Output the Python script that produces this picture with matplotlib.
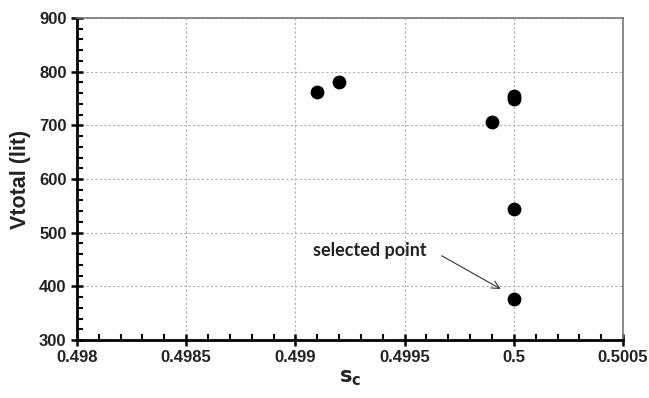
import numpy as np
import matplotlib.pyplot as plt
from matplotlib.ticker import MultipleLocator

# data
s_c = [0.4991, 0.4992, 0.4999, 0.5, 0.5, 0.5, 0.5]
v_total = [763, 781, 706, 749, 755, 545, 376]
sel_x, sel_y = 0.5, 376

x_ticks = [0.498, 0.4985, 0.499, 0.4995, 0.5, 0.5005]
x_tick_labels = ["0.498", "0.4985", "0.499", "0.4995", "0.5", "0.5005"]
y_ticks = [300, 400, 500, 600, 700, 800, 900]

plt.rcParams['font.family'] = ['Liberation Sans', 'DejaVu Sans']

fig = plt.figure(figsize=(6.49, 3.98), dpi=100)
ax = fig.add_axes([0.1186, 0.1457, 0.8414, 0.8091])

ax.scatter(s_c, v_total, s=80, color='black', zorder=3)

ax.set_xlim(0.498, 0.5005)
ax.set_ylim(300, 900)
ax.set_xticks(x_ticks)
ax.set_xticklabels(x_tick_labels)
ax.set_yticks(y_ticks)
ax.xaxis.set_minor_locator(MultipleLocator(0.0001))
ax.yaxis.set_minor_locator(MultipleLocator(20))

ax.grid(True, which='major', color='#b0b0b0', linestyle=(0, (2, 2)), linewidth=0.8)
ax.set_axisbelow(True)

for side in ['left', 'bottom']:
    ax.spines[side].set_linewidth(2)
    ax.spines[side].set_color('black')
for side in ['top', 'right']:
    ax.spines[side].set_linewidth(1.2)
    ax.spines[side].set_color('#777777')

ax.tick_params(which='major', direction='inout', length=9, width=1.8,
               labelsize=12, pad=3)
ax.tick_params(which='minor', direction='in', length=4, width=1.5)
for lab in ax.get_xticklabels() + ax.get_yticklabels():
    lab.set_fontweight('bold')
    lab.set_color('#222222')

ax.set_ylabel('Vtotal (lit)', fontsize=15.5, fontweight='bold', labelpad=6,
              color='#222222')
ax.set_xlabel(r'$\mathbf{s_c}$', fontsize=15, labelpad=2, color='#222222')

# selected point label and arrow
ax.text(0.49960, 466, 'selected point', fontsize=13, fontweight='bold',
        family=['Lato', 'DejaVu Sans'], color='#222222', ha='right', va='center')
ax.annotate('', xy=(0.49994, 395), xytext=(0.49967, 457),
            arrowprops=dict(arrowstyle='->', color='#333333', lw=0.8,
                            shrinkA=0, shrinkB=0, mutation_scale=14))

fig.savefig('out.png', dpi=100)
